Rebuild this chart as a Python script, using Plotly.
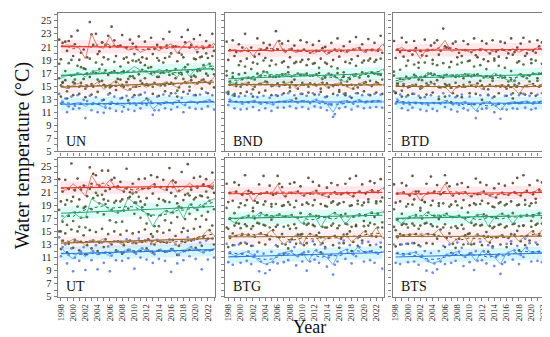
import numpy as np
import plotly.graph_objects as go

years = list(range(1998, 2024))
x_tick_labels = [str(y) for y in range(1998, 2023, 2)]
y_tick_labels = [str(v) for v in range(5, 26, 2)]
panel_names = ["UN", "BND", "BTD", "UT", "BTG", "BTS"]
season_names = ["summer", "autumn", "spring", "winter"]

# ---- annual mean lines ----
UN_summer_mean = [21.0,21.3,21.2,20.8,19.2,23.0,21.0,20.8,22.6,20.9,21.0,20.5,20.8,20.2,20.6,21.0,20.4,20.9,21.5,20.0,21.2,21.9,20.5,21.0,20.8,21.6]
UN_autumn_mean = [16.2,16.6,16.8,17.0,16.4,17.2,17.4,16.9,17.0,17.1,16.8,17.3,18.0,17.4,17.1,16.6,17.6,17.0,17.3,16.3,17.9,16.5,17.6,17.8,18.3,18.0]
UN_spring_mean = [15.0,14.6,15.2,15.4,14.8,15.0,15.6,14.5,15.2,15.9,14.7,14.3,15.0,15.3,14.8,15.4,15.0,15.6,15.3,14.8,15.5,15.8,15.2,16.0,15.4,16.3]
UN_winter_mean = [12.9,12.0,12.3,12.5,11.9,12.4,12.2,11.8,12.6,12.3,12.0,12.4,12.2,12.5,13.0,11.5,12.3,12.6,12.4,12.8,12.1,12.7,12.5,12.6,12.9,12.5]

BND_summer_mean = [20.4,20.6,20.2,20.9,19.6,20.8,20.5,20.3,22.0,20.2,20.6,20.1,20.5,20.3,20.0,20.6,19.8,20.4,20.7,20.1,20.5,20.9,20.2,20.6,20.3,21.4]
BND_autumn_mean = [15.6,15.4,16.2,16.4,16.0,16.6,17.2,16.5,16.7,16.9,16.4,16.8,16.9,16.6,16.8,16.2,16.9,16.5,16.0,15.6,16.8,16.4,16.9,17.2,17.0,17.6]
BND_spring_mean = [15.2,15.0,15.3,15.5,14.9,15.4,15.6,15.1,15.0,15.3,15.6,14.6,15.2,15.4,15.1,15.5,14.8,15.2,15.5,15.0,14.6,15.3,15.6,15.0,15.4,15.2]
BND_winter_mean = [13.0,12.6,12.4,12.5,12.8,12.3,12.5,12.2,12.6,12.7,12.9,12.6,12.8,12.5,12.9,12.7,12.3,11.0,12.6,12.8,12.4,12.9,12.6,12.7,12.8,12.7]

BTD_summer_mean = [20.5,20.9,20.3,20.6,19.2,20.7,20.4,20.8,22.0,20.3,20.5,20.6,20.2,20.5,20.8,20.1,20.4,20.6,20.3,20.7,20.2,20.6,20.4,20.9,20.5,21.3]
BTD_autumn_mean = [15.5,15.7,16.2,16.6,16.1,16.9,16.7,16.5,16.8,16.4,16.7,16.8,16.9,16.6,16.5,16.2,17.0,16.4,16.0,15.6,16.9,16.5,16.8,17.0,16.7,17.3]
BTD_spring_mean = [15.3,14.9,15.0,15.2,14.7,15.1,15.4,14.6,14.9,13.9,15.0,14.8,15.2,15.3,14.5,15.1,14.9,15.2,15.0,14.8,13.8,15.1,15.3,14.9,15.5,15.0]
BTD_winter_mean = [13.1,12.5,12.3,12.6,12.4,12.2,12.5,12.3,12.8,12.4,12.2,12.6,12.3,11.2,12.5,12.6,12.1,11.3,12.4,12.6,12.5,12.7,12.4,12.6,12.8,12.5]

UT_summer_mean = [21.2,21.4,22.3,21.5,20.4,23.6,22.1,21.8,22.9,21.6,21.2,21.9,20.9,21.4,21.6,22.2,21.7,21.3,22.8,21.0,21.5,22.4,21.7,22.0,21.8,22.6]
UT_autumn_mean = [16.6,17.5,18.0,17.2,17.1,20.0,19.4,19.1,18.2,17.9,18.1,20.1,19.3,18.7,17.6,15.8,17.4,18.2,17.9,18.8,17.0,19.2,18.4,18.9,19.6,20.0]
UT_spring_mean = [13.6,13.2,13.8,13.5,12.9,13.7,13.4,13.9,13.1,13.5,13.0,13.6,13.2,13.4,13.8,13.1,13.5,13.3,13.7,12.8,13.4,13.6,13.9,14.2,15.3,14.4]
UT_winter_mean = [12.6,11.5,10.8,11.9,11.1,12.0,11.4,11.8,11.2,12.0,11.9,12.3,11.7,12.4,12.1,11.6,12.2,11.9,12.3,11.5,12.0,12.6,12.2,11.8,12.1,12.4]

BTG_summer_mean = [20.9,21.1,20.7,21.3,19.6,20.8,21.0,20.6,22.2,20.4,20.9,21.1,20.5,20.8,21.2,20.6,20.3,21.0,20.7,20.9,20.4,21.1,20.8,21.3,21.0,21.6]
BTG_autumn_mean = [17.0,16.3,17.1,17.4,17.0,17.8,17.5,17.2,17.6,17.3,17.5,17.1,16.2,17.6,17.4,15.7,17.2,17.8,17.5,16.1,17.3,17.6,17.4,17.9,17.7,18.0]
BTG_spring_mean = [14.0,14.3,14.6,14.5,14.2,14.7,14.4,15.2,14.1,13.0,13.8,14.5,12.9,14.6,14.4,13.2,14.0,14.3,13.9,14.6,13.4,14.2,15.0,14.3,15.6,14.0]
BTG_winter_mean = [11.8,11.3,11.6,11.9,11.4,10.4,10.0,10.3,11.5,11.7,12.0,11.2,11.8,10.4,12.1,11.6,11.0,9.9,11.8,12.2,11.5,12.6,11.8,12.0,11.6,11.9]

BTS_summer_mean = [20.8,21.0,20.6,21.2,19.7,20.9,21.0,20.7,22.3,20.5,20.9,21.1,20.4,20.7,21.1,20.6,20.2,20.9,20.6,21.0,20.5,21.2,20.7,21.4,21.1,21.5]
BTS_autumn_mean = [16.8,16.2,17.2,17.5,17.0,17.9,17.4,17.3,17.7,17.2,17.4,17.0,16.3,17.5,17.6,15.8,17.1,17.7,17.4,16.2,17.4,17.5,17.3,17.8,17.8,17.9]
BTS_spring_mean = [14.1,14.4,14.5,14.6,14.3,14.6,14.5,15.3,14.0,13.1,13.9,14.4,13.0,14.5,14.3,13.3,14.1,14.4,14.0,14.5,13.5,14.3,15.0,14.4,15.5,14.1]
BTS_winter_mean = [11.7,11.4,11.6,11.8,11.3,10.5,10.1,10.4,11.4,11.6,11.9,11.1,11.7,10.5,12.0,11.5,11.1,10.0,11.7,12.1,11.4,12.5,11.8,11.9,11.7,11.8]

# ---- monthly points (3 per season per year, read approximately) ----
UN_summer_pts = [22.1,19.1,21.6, 21.8,20.4,21.9, 22.6,19.6,21.4, 23.5,19.0,20.1, 20.6,17.6,19.4, 24.8,22.9,21.3, 23.0,19.9,20.3, 21.7,19.4,21.3, 22.7,21.0,24.1, 22.0,19.6,21.1, 21.2,22.8,19.2, 20.9,18.6,22.1, 21.5,19.9,21.0, 22.6,18.6,19.4, 21.8,19.2,20.7, 22.4,19.9,20.7, 21.3,18.9,20.9, 22.2,19.3,21.2, 23.3,20.0,21.1, 21.1,18.8,20.1, 22.5,19.4,21.7, 23.6,20.9,21.3, 22.2,19.1,20.2, 22.8,19.5,20.8, 21.9,19.3,21.2, 23.0,20.4,21.4]
UN_autumn_pts = [18.4,15.1,15.6, 17.3,14.2,18.5, 19.0,15.6,16.0, 18.1,14.9,17.9, 17.7,14.6,16.9, 19.2,15.3,17.2, 18.6,16.0,17.6, 18.3,15.2,17.4, 19.1,14.8,17.1, 18.7,15.6,17.0, 18.0,15.2,17.3, 19.4,16.1,16.5, 18.9,16.2,18.8, 19.0,15.8,17.5, 18.2,15.3,17.8, 17.9,14.9,17.1, 19.3,16.4,17.0, 18.6,15.1,17.4, 19.5,15.5,16.9, 17.6,14.3,17.0, 19.8,16.1,17.9, 18.3,14.9,16.4, 19.2,16.4,17.3, 19.4,15.9,18.2, 20.0,16.6,18.4, 19.6,16.8,17.5]
UN_spring_pts = [16.2,13.4,15.5, 15.9,13.1,14.8, 16.6,13.6,15.4, 16.9,13.8,15.5, 16.1,13.3,15.0, 16.4,13.7,14.9, 17.0,14.1,15.7, 15.8,12.9,14.9, 16.7,13.9,15.0, 17.3,14.4,16.1, 16.0,13.2,14.9, 15.6,12.8,14.5, 16.5,13.6,14.9, 16.8,13.7,15.4, 16.2,13.1,15.1, 16.9,13.8,15.5, 16.4,13.5,15.1, 17.1,14.2,15.5, 16.7,13.9,15.3, 16.2,13.4,14.8, 16.8,14.1,15.6, 17.2,14.3,15.9, 16.6,13.6,15.4, 17.4,14.6,16.0, 16.9,13.9,15.4, 17.6,14.8,16.5]
UN_winter_pts = [13.8,12.3,12.6, 13.1,11.0,11.9, 13.4,11.5,12.0, 13.6,11.6,12.3, 12.9,10.1,12.7, 13.5,11.3,12.4, 13.3,11.0,12.3, 12.8,10.9,11.7, 13.7,11.6,12.5, 13.4,11.2,12.3, 13.1,11.1,11.8, 13.5,11.4,12.3, 13.3,11.2,12.1, 13.6,11.6,12.3, 14.0,12.1,12.9, 12.6,10.6,11.3, 13.4,11.3,12.2, 13.7,11.6,12.5, 13.5,11.4,12.3, 13.9,11.8,12.7, 13.2,11.0,12.1, 13.8,11.7,12.6, 13.6,11.5,12.4, 13.7,11.5,12.6, 14.0,11.9,12.8, 13.6,11.4,12.5]

BND_summer_pts = [21.8,19.0,20.5, 22.0,19.6,20.2, 21.4,18.8,20.9, 23.0,19.2,20.4, 20.9,18.6,19.5, 22.3,19.9,20.6, 21.6,19.3,20.8, 21.3,18.9,20.5, 23.4,20.6,21.9, 21.5,18.8,20.3, 21.9,19.4,20.7, 21.2,18.7,20.4, 22.0,19.0,20.6, 21.7,19.1,20.1, 21.3,18.5,20.4, 21.9,19.2,20.8, 21.0,18.4,20.1, 21.6,19.0,20.6, 22.3,19.5,20.4, 21.1,18.7,20.3, 21.8,19.1,20.6, 22.5,19.6,20.8, 21.4,18.9,20.3, 22.2,19.2,20.5, 21.6,19.0,20.4, 22.7,20.1,21.3]
BND_autumn_pts = [17.3,14.1,15.6, 17.0,13.8,15.4, 18.2,14.9,16.1, 18.0,15.2,16.3, 17.6,14.5,16.0, 18.4,15.3,16.6, 18.9,15.7,17.1, 18.1,15.0,16.4, 18.3,15.4,16.5, 18.6,15.6,16.8, 17.9,14.8,16.5, 18.5,15.1,16.9, 18.7,15.5,16.7, 18.2,14.9,16.6, 18.4,15.3,16.8, 17.8,14.6,16.1, 18.6,15.4,16.9, 18.0,15.0,16.5, 17.7,14.4,15.9, 17.1,13.9,15.7, 18.5,15.2,16.7, 18.1,14.8,16.3, 18.6,15.5,16.9, 18.9,15.8,17.1, 18.7,15.6,16.8, 19.2,16.0,17.5]
BND_spring_pts = [16.6,13.8,15.2, 16.4,13.5,15.0, 16.8,13.9,15.3, 17.0,14.1,15.5, 16.2,13.4,14.9, 16.9,14.0,15.3, 17.2,14.3,15.6, 16.5,13.6,15.1, 16.4,13.5,15.0, 16.8,13.9,15.2, 17.1,14.2,15.6, 16.0,13.1,14.6, 16.7,13.8,15.2, 16.9,14.0,15.4, 16.6,13.7,15.1, 17.0,14.1,15.5, 16.3,13.4,14.8, 16.7,13.8,15.2, 17.0,14.1,15.4, 16.5,13.6,15.0, 16.1,13.2,14.6, 16.8,13.9,15.3, 17.1,14.2,15.6, 16.5,13.6,15.0, 16.9,14.0,15.4, 16.7,13.8,15.2]
BND_winter_pts = [14.0,12.1,12.9, 13.6,11.6,12.6, 13.4,11.4,12.3, 13.5,11.5,12.5, 13.8,11.8,12.7, 13.3,11.3,12.3, 13.5,11.6,12.4, 13.2,11.2,12.2, 13.6,11.7,12.6, 13.7,11.7,12.6, 13.9,11.9,12.8, 13.6,11.6,12.5, 13.8,11.8,12.7, 13.5,11.5,12.4, 13.9,11.9,12.9, 13.7,11.7,12.6, 13.3,11.3,12.2, 12.1,10.3,10.7, 13.6,11.6,12.5, 13.8,11.8,12.7, 13.4,11.4,12.3, 13.9,11.9,12.8, 13.6,11.6,12.5, 13.7,11.7,12.6, 13.8,11.8,12.7, 13.7,11.7,12.6]

BTD_summer_pts = [21.9,19.3,20.6, 20.2,22.4,19.5, 21.7,18.9,20.4, 19.8,21.9,20.8, 18.6,20.4,19.7, 22.1,19.6,20.5, 21.2,19.0,21.6, 22.0,19.8,20.4, 23.8,21.1,20.9, 20.8,18.7,21.5, 21.8,19.4,20.1, 19.6,21.9,20.5, 21.4,18.9,20.2, 22.3,19.7,19.4, 20.6,21.9,19.1, 21.5,18.8,20.0, 22.0,19.2,20.3, 19.5,21.8,20.6, 21.6,19.3,20.0, 22.3,19.8,20.2, 20.9,18.8,21.5, 22.4,19.6,20.0, 21.8,19.1,20.4, 20.1,22.0,21.1, 21.7,19.4,20.6, 22.6,20.2,21.3]
BTD_autumn_pts = [17.2,14.0,15.4, 17.5,14.3,15.3, 18.1,14.8,16.2, 15.1,18.3,16.5, 17.8,14.6,15.9, 18.6,15.4,16.9, 15.6,18.4,16.8, 18.2,14.9,16.4, 18.5,15.3,16.7, 17.9,14.8,16.6, 15.5,18.3,16.5, 18.6,15.2,16.8, 18.8,15.6,16.5, 18.0,14.9,16.8, 18.2,15.1,16.3, 17.6,14.5,16.4, 15.8,18.9,16.7, 18.1,14.9,16.3, 17.8,14.6,15.7, 17.3,13.9,15.8, 18.6,15.4,16.8, 18.3,15.0,16.2, 15.7,18.5,16.9, 18.9,15.8,16.9, 18.4,15.3,16.6, 19.1,15.9,17.0]
BTD_spring_pts = [16.6,13.9,15.3, 16.1,13.4,15.0, 16.4,13.6,14.9, 13.8,16.7,15.2, 16.0,13.2,14.8, 16.5,13.7,15.1, 16.9,14.0,15.3, 15.9,13.0,14.8, 16.3,13.4,15.1, 15.2,12.5,13.9, 16.4,13.5,15.0, 13.3,16.2,14.9, 16.6,13.9,15.1, 16.7,13.8,15.4, 15.8,12.9,14.6, 16.5,13.6,15.2, 16.2,13.4,15.0, 13.9,16.6,15.1, 16.3,13.5,15.1, 16.0,13.1,15.2, 15.0,12.4,13.9, 16.5,13.7,15.0, 16.6,13.9,15.3, 13.5,16.2,14.9, 16.9,14.0,15.6, 16.4,13.6,14.9]
BTD_winter_pts = [14.2,12.3,12.9, 13.7,11.6,12.3, 13.4,11.3,12.2, 11.7,13.8,12.4, 13.5,11.4,12.3, 13.3,11.2,12.1, 13.6,11.5,12.4, 11.2,13.4,12.3, 13.9,11.8,12.7, 13.5,11.4,12.2, 13.3,11.1,12.1, 13.7,11.6,12.5, 11.3,13.4,12.2, 12.2,10.1,11.2, 13.6,11.5,12.4, 11.6,13.7,12.5, 13.2,11.0,12.0, 12.3,10.0,11.5, 13.5,11.4,12.3, 13.7,11.6,12.5, 11.5,13.6,12.4, 13.8,11.7,12.6, 13.5,11.4,12.3, 11.6,13.7,12.5, 13.9,11.8,12.8, 13.6,11.5,12.4]

UT_summer_pts = [23.0,19.6,21.1, 22.9,19.8,21.5, 25.4,20.3,21.3, 23.1,19.9,21.4, 22.0,18.8,20.4, 24.8,22.3,23.8, 23.6,20.5,22.0, 24.3,19.9,21.2, 24.3,21.5,22.9, 23.2,19.7,21.9, 22.6,19.9,21.1, 24.6,20.1,21.0, 22.3,19.4,21.0, 23.0,19.6,21.5, 23.1,20.1,21.6, 23.6,20.8,22.2, 23.3,20.0,21.8, 22.9,19.6,21.4, 24.7,20.9,22.8, 22.5,19.3,21.2, 24.1,19.8,20.6, 25.3,20.5,21.4, 23.2,20.2,21.7, 23.4,20.4,22.2, 23.0,20.2,21.8, 24.0,20.9,22.9]
UT_autumn_pts = [18.3,15.0,16.5, 19.1,16.0,17.4, 19.6,16.6,17.9, 18.8,15.7,17.1, 18.6,15.6,17.2, 21.5,18.4,20.1, 20.9,17.9,19.3, 20.6,17.6,19.2, 19.7,16.7,18.3, 19.4,16.4,17.9, 19.6,16.5,18.2, 21.6,18.5,20.3, 20.8,17.7,19.4, 20.3,17.1,18.7, 19.1,16.2,17.6, 17.4,14.2,15.8, 19.0,15.8,17.5, 19.8,16.7,18.1, 19.5,16.3,17.9, 20.4,17.2,18.8, 18.6,15.5,16.9, 20.8,17.7,19.1, 19.9,16.9,18.3, 20.5,17.4,18.8, 21.1,18.0,19.7, 21.6,18.4,20.0]
UT_spring_pts = [15.0,12.3,13.6, 14.7,11.8,13.1, 15.3,12.5,13.7, 15.0,12.1,13.4, 14.4,11.5,12.9, 15.2,12.4,13.6, 14.9,12.0,13.3, 15.4,12.6,13.8, 14.6,11.7,13.0, 15.0,12.1,13.5, 14.5,11.6,12.9, 15.1,12.2,13.6, 14.7,11.8,13.2, 14.9,12.0,13.4, 15.3,12.4,13.8, 14.6,11.7,13.0, 15.0,12.1,13.4, 14.8,11.9,13.3, 15.2,12.3,13.7, 14.3,11.4,12.8, 14.9,12.0,13.4, 15.1,12.2,13.6, 15.4,12.5,13.9, 15.7,12.8,14.2, 16.8,13.9,15.2, 15.9,13.0,14.3]
UT_winter_pts = [14.1,11.2,12.6, 13.0,10.1,11.4, 12.4,8.9,11.0, 13.4,10.5,11.9, 12.6,9.1,11.5, 13.5,10.6,12.0, 12.9,9.2,11.6, 13.3,10.2,11.8, 12.7,8.9,11.3, 13.5,10.6,12.0, 13.4,10.5,11.8, 13.8,10.9,12.2, 13.2,9.3,11.6, 13.9,11.0,12.4, 13.6,10.7,12.1, 13.1,10.2,11.5, 13.7,10.8,12.2, 13.4,10.5,11.9, 13.8,8.8,12.3, 13.0,10.1,11.4, 13.5,10.6,12.0, 14.1,11.2,12.6, 13.7,10.8,12.2, 13.3,9.2,11.8, 13.6,10.7,12.1, 13.9,11.0,12.4]

BTG_summer_pts = [22.3,19.5,20.9, 19.7,22.5,21.1, 22.1,19.3,20.6, 23.6,19.8,21.2, 21.0,18.1,19.7, 19.4,22.2,20.8, 23.5,19.6,21.0, 22.0,19.2,20.6, 20.8,23.5,22.3, 21.8,19.0,20.4, 19.5,22.3,20.9, 22.5,19.7,21.1, 21.9,19.1,20.5, 19.4,23.2,20.8, 22.6,19.8,21.2, 22.0,19.2,20.6, 18.9,21.7,20.3, 22.4,19.6,21.0, 22.1,19.3,20.7, 19.5,22.3,20.9, 23.1,19.0,20.4, 23.5,19.7,21.1, 22.2,19.4,20.8, 19.9,22.7,21.3, 22.4,19.6,21.0, 23.0,20.2,21.6]
BTG_autumn_pts = [18.6,15.4,17.0, 14.7,17.8,16.3, 18.7,15.5,17.1, 19.0,15.8,17.4, 15.4,18.6,17.0, 19.4,16.2,17.8, 19.1,15.9,17.5, 15.6,18.8,17.2, 19.2,16.0,17.6, 18.9,15.7,17.3, 15.9,19.1,17.5, 18.7,15.5,17.1, 17.8,14.6,16.2, 16.0,19.2,17.6, 19.0,15.8,17.4, 17.3,14.1,15.7, 15.6,18.8,17.2, 19.4,16.2,17.8, 19.1,15.9,17.5, 14.5,17.7,16.1, 18.9,15.7,17.3, 16.0,19.2,17.6, 19.0,15.8,17.4, 19.5,16.3,17.9, 16.1,19.3,17.7, 19.6,16.4,18.0]
BTG_spring_pts = [15.6,12.6,14.0, 12.9,15.9,14.3, 16.2,13.2,14.6, 16.1,13.1,14.5, 12.8,15.8,14.2, 16.3,13.3,14.7, 16.0,13.0,14.4, 13.8,16.8,15.2, 15.7,12.7,14.1, 14.6,11.6,13.0, 12.4,15.4,13.8, 16.1,13.1,14.5, 14.5,11.5,12.9, 13.2,16.2,14.6, 16.0,13.0,14.4, 14.8,11.8,13.2, 12.6,15.6,14.0, 15.9,12.9,14.3, 15.5,12.5,13.9, 13.2,16.2,14.6, 15.0,12.0,13.4, 15.8,12.8,14.2, 13.6,16.6,15.0, 15.9,12.9,14.3, 17.2,14.2,15.6, 12.6,15.6,14.0]
BTG_winter_pts = [13.1,10.3,11.8, 9.9,12.9,11.2, 13.0,10.2,11.6, 13.3,10.5,11.9, 10.0,12.8,11.4, 11.9,8.9,10.4, 11.6,8.6,10.0, 9.1,11.9,10.3, 12.9,10.1,11.5, 13.1,10.3,11.7, 10.6,13.4,12.0, 12.6,9.8,11.2, 13.2,10.4,11.8, 9.0,11.9,10.4, 13.5,10.7,12.1, 10.2,13.0,11.6, 12.4,9.6,11.0, 11.4,8.4,9.9, 10.4,13.2,11.8, 13.6,10.8,12.2, 12.9,10.1,11.5, 11.2,14.0,12.6, 13.2,10.4,11.8, 13.4,10.6,12.0, 10.2,13.0,11.6, 13.3,9.3,11.9]

BTS_summer_pts = [22.2,19.4,20.8, 19.6,22.4,21.0, 22.0,19.2,20.5, 23.5,19.9,21.1, 21.1,18.2,19.8, 19.5,22.3,20.9, 23.4,19.7,21.1, 22.1,19.3,20.7, 20.9,23.6,22.4, 21.9,19.1,20.5, 19.6,22.2,20.8, 22.4,19.8,21.0, 21.8,19.0,20.4, 19.3,23.1,20.7, 22.5,19.7,21.1, 22.1,19.3,20.5, 18.8,21.6,20.2, 22.3,19.5,20.9, 22.0,19.2,20.6, 19.6,22.4,21.0, 23.2,19.1,20.5, 23.6,19.8,21.2, 22.1,19.3,20.7, 20.0,22.8,21.4, 22.5,19.7,21.1, 22.9,20.1,21.5]
BTS_autumn_pts = [18.4,15.2,16.8, 14.6,17.7,16.2, 18.8,15.6,17.2, 19.1,15.9,17.5, 15.4,18.6,17.0, 19.5,16.3,17.9, 19.0,15.8,17.4, 15.7,18.9,17.3, 19.3,16.1,17.7, 18.8,15.6,17.2, 15.8,19.0,17.4, 18.6,15.4,17.0, 17.9,14.7,16.3, 15.9,19.1,17.5, 19.2,16.0,17.6, 17.4,14.2,15.8, 15.5,18.7,17.1, 19.3,16.1,17.7, 19.0,15.8,17.4, 14.6,17.8,16.2, 19.0,15.8,17.4, 15.9,19.1,17.5, 18.9,15.7,17.3, 19.4,16.2,17.8, 16.2,19.4,17.8, 19.5,16.3,17.9]
BTS_spring_pts = [15.7,12.7,14.1, 13.0,16.0,14.4, 16.1,13.1,14.5, 16.2,13.2,14.6, 12.9,15.9,14.3, 16.2,13.2,14.6, 16.1,13.1,14.5, 13.9,16.9,15.3, 15.6,12.6,14.0, 14.7,11.7,13.1, 12.5,15.5,13.9, 16.0,13.0,14.4, 14.6,11.6,13.0, 13.1,16.1,14.5, 15.9,12.9,14.3, 14.9,11.9,13.3, 12.7,15.7,14.1, 16.0,13.0,14.4, 15.6,12.6,14.0, 13.1,16.1,14.5, 15.1,12.1,13.5, 15.9,12.9,14.3, 13.6,16.6,15.0, 16.0,13.0,14.4, 17.1,14.1,15.5, 12.7,15.7,14.1]
BTS_winter_pts = [13.0,10.2,11.7, 10.0,13.0,11.4, 13.1,10.3,11.6, 13.2,10.4,11.8, 9.9,12.7,11.3, 12.0,9.0,10.5, 11.7,8.7,10.1, 9.2,12.0,10.4, 12.8,10.0,11.4, 13.0,10.2,11.6, 10.5,13.3,11.9, 12.5,9.7,11.1, 13.1,10.3,11.7, 9.1,12.0,10.5, 13.4,10.6,12.0, 10.1,12.9,11.5, 12.5,9.7,11.1, 11.5,8.5,10.0, 10.3,13.1,11.7, 13.5,10.7,12.1, 12.8,10.0,11.4, 11.1,13.9,12.5, 13.2,10.4,11.8, 13.3,10.5,11.9, 10.3,13.1,11.7, 13.2,9.2,11.8]

means = {p: {s: globals()[f"{p}_{s}_mean"] for s in season_names} for p in panel_names}
points = {p: {s: globals()[f"{p}_{s}_pts"] for s in season_names} for p in panel_names}

# ---- styles ----
style = {
    "summer": dict(band="rgba(255,175,190,0.30)", pt="#5b3322", mean="#e2705f", trend="#e23a2c", smooth="#c43a2c"),
    "autumn": dict(band="rgba(120,250,225,0.26)", pt="#35602c", mean="#45bd8c", trend="#2a9d6a", smooth="#1f7a52"),
    "spring": dict(band="rgba(255,185,200,0.24)", pt="#4a441e", mean="#b99058", trend="#9a6a30", smooth="#7d5220"),
    "winter": dict(band="rgba(120,225,255,0.30)", pt="#5577e0", mean="#58a8ea", trend="#2f7ad8", smooth="#2060c0"),
}
FONT = "Liberation Serif, Times New Roman, serif"
W, H = 550, 337
col_px = [(48, 206), (216, 375), (384, 543)]
row_px = [(5, 146), (153, 294)]
XR = [1997.5, 2023.2]
YR = [5, 26.2]

fig = go.Figure()
annotations = []
yrs = np.array(years, dtype=float)
offsets = [-0.28, 0.0, 0.28]

for i, p in enumerate(panel_names):
    r, c = divmod(i, 3)
    n = i + 1
    xa = "x" if n == 1 else f"x{n}"
    ya = "y" if n == 1 else f"y{n}"
    for s in season_names:
        st = style[s]
        m = np.array(means[p][s])
        k, b = np.polyfit(yrs, m, 1)
        tr = k * yrs + b
        fig.add_trace(go.Scatter(x=list(yrs) + list(yrs[::-1]), y=list(tr + 1.0) + list((tr - 1.0)[::-1]),
                                 fill="toself", fillcolor=st["band"], line=dict(width=0), mode="lines",
                                 hoverinfo="skip", showlegend=False, xaxis=xa, yaxis=ya))
    for s in season_names:
        st = style[s]
        pts = points[p][s]
        px = [years[j // 3] + offsets[j % 3] for j in range(len(pts))]
        fig.add_trace(go.Scatter(x=px, y=pts, mode="markers",
                                 marker=dict(size=2.7, color=st["pt"], opacity=0.85, line=dict(width=0)),
                                 showlegend=False, xaxis=xa, yaxis=ya))
    for s in season_names:
        st = style[s]
        m = np.array(means[p][s])
        k, b = np.polyfit(yrs, m, 1)
        tr = k * yrs + b
        ker = np.ones(5)
        sm = np.convolve(m, ker, mode="same") / np.convolve(np.ones_like(m), ker, mode="same")
        fig.add_trace(go.Scatter(x=years, y=m, mode="lines", line=dict(color=st["mean"], width=0.9),
                                 showlegend=False, xaxis=xa, yaxis=ya))
        fig.add_trace(go.Scatter(x=years, y=sm, mode="lines", line=dict(color=st["smooth"], width=1.0, dash="dot"),
                                 showlegend=False, xaxis=xa, yaxis=ya))
        fig.add_trace(go.Scatter(x=years, y=tr, mode="lines", line=dict(color=st["trend"], width=1.1),
                                 showlegend=False, xaxis=xa, yaxis=ya))

    x0, x1 = col_px[c]
    yt, yb = row_px[r]
    xdom = [x0 / W, x1 / W]
    ydom = [1 - yb / H, 1 - yt / H]
    xkey = "xaxis" if n == 1 else f"xaxis{n}"
    ykey = "yaxis" if n == 1 else f"yaxis{n}"
    fig.layout[xkey] = dict(domain=xdom, anchor=ya, range=XR, showgrid=False, zeroline=False,
                            showline=True, mirror=True, linecolor="#7f7f7f", linewidth=1.3,
                            tickmode="array", tickvals=[int(t) for t in x_tick_labels], ticktext=x_tick_labels,
                            ticks="outside", ticklen=3, tickcolor="#7f7f7f", tickwidth=1,
                            minor=dict(dtick=1, tick0=1998, ticks="outside", ticklen=3, tickcolor="#7f7f7f"),
                            tickangle=-90, showticklabels=(r == 1),
                            tickfont=dict(family=FONT, size=8.5, color="#222"))
    fig.layout[ykey] = dict(domain=ydom, anchor=xa, range=YR, showgrid=False, zeroline=False,
                            showline=True, mirror=True, linecolor="#7f7f7f", linewidth=1.3,
                            tickmode="array", tickvals=[int(t) for t in y_tick_labels], ticktext=y_tick_labels,
                            ticks="outside", ticklen=3, tickcolor="#7f7f7f", tickwidth=1,
                            minor=dict(dtick=1, tick0=5, ticks="outside", ticklen=3, tickcolor="#7f7f7f"),
                            showticklabels=(c == 0),
                            tickfont=dict(family=FONT, size=10.5, color="#222"))
    annotations.append(dict(text=p, xref="paper", yref="paper", x=(x0 + 6) / W, y=1 - (yb - 10) / H,
                            xanchor="left", yanchor="middle", showarrow=False,
                            font=dict(family=FONT, size=14, color="#111")))

annotations.append(dict(text="Water temperature (\u00b0C)", xref="paper", yref="paper", x=12 / W, y=1 - 150 / H,
                        textangle=-90, showarrow=False, xanchor="center", yanchor="middle",
                        font=dict(family=FONT, size=20, color="#111")))
annotations.append(dict(text="Year", xref="paper", yref="paper", x=301 / W, y=1 - 324.5 / H,
                        showarrow=False, xanchor="center", yanchor="middle",
                        font=dict(family=FONT, size=18, color="#111")))

fig.update_layout(width=W, height=H, margin=dict(l=0, r=0, t=0, b=0), autosize=False,
                  paper_bgcolor="white", plot_bgcolor="white", showlegend=False,
                  annotations=annotations)
fig.write_html("out.html")
